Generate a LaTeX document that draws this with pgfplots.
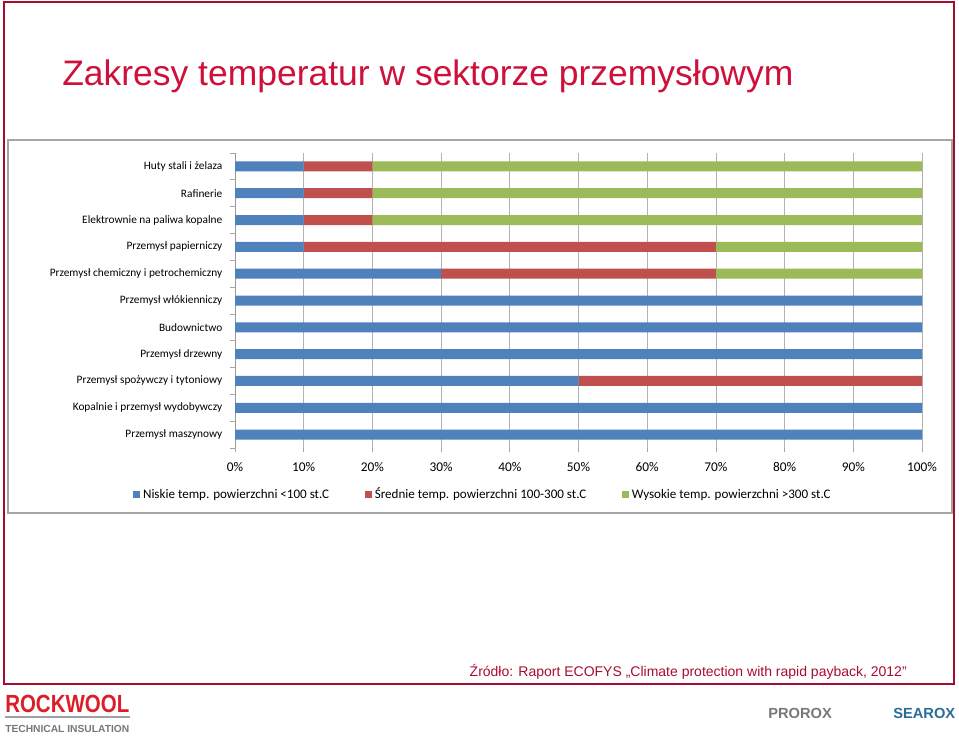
\documentclass[border=0pt]{standalone}
\usepackage{pgfplots}
\pgfplotsset{compat=1.18}
\usepackage{fontspec}
\setmainfont{Carlito}
\newfontfamily\arialf{Liberation Sans}

\definecolor{niskie}{RGB}{79,129,189}
\definecolor{srednie}{RGB}{192,80,77}
\definecolor{wysokie}{RGB}{155,187,89}
\definecolor{slidered}{RGB}{206,16,58}
\definecolor{srcred}{RGB}{170,12,48}
\definecolor{logored}{RGB}{220,30,40}
\definecolor{logogray}{RGB}{120,120,120}
\definecolor{searox}{RGB}{40,110,150}

\begin{document}
\begin{tikzpicture}
% slide frame (1 unit = 1 px of the reference)
\begin{scope}[x=0.75pt,y=-0.75pt]
\path[use as bounding box] (0,0) rectangle (959,735);
\fill[white] (0,0) rectangle (959,735);
\draw[slidered!80!black, line width=1.2pt] (4,2) rectangle (954,684);
\draw[gray!70, line width=0.9pt] (8,140) rectangle (952,513);
\node[anchor=base west, inner sep=0pt, text=slidered, font=\arialf\fontsize{26.6}{30}\selectfont]
  at (62,85) {Zakresy temperatur w sektorze przemysłowym};
\node[anchor=base east, inner sep=0pt, text=srcred, font=\arialf\fontsize{10.5}{12}\selectfont]
  at (907,676) {Źródło: Raport ECOFYS „Climate protection with rapid payback, 2012”};
% logos
\node[anchor=base west, inner sep=0pt, text=logored, font=\arialf\bfseries\fontsize{15}{16}\selectfont]
  at (5,712) {\resizebox{93pt}{13pt}{ROCKWOOL}};
\draw[logogray!70, line width=1.5pt] (5,717) -- (130,717);
\node[anchor=base west, inner sep=0pt, text=logogray, font=\arialf\bfseries\fontsize{8.5}{10}\selectfont]
  at (5,732) {\resizebox{93pt}{!}{TECHNICAL INSULATION}};
\node[anchor=base west, inner sep=0pt, text=logogray, font=\arialf\bfseries\fontsize{11}{12}\selectfont]
  at (768,718) {PROROX};
\node[anchor=base west, inner sep=0pt, text=searox, font=\arialf\bfseries\fontsize{11}{12}\selectfont]
  at (893,718) {SEAROX};
\end{scope}

\begin{axis}[
    at={(176.25pt,-336pt)}, anchor=south west,
    scale only axis,
    width=515.25pt, height=221.25pt,
    xbar stacked,
    bar width=7.5pt,
    xmin=0, xmax=100,
    ymin=-0.5, ymax=10.5,
    axis x line*=bottom,
    axis y line*=left,
    x axis line style={draw=none},
    y axis line style={gray!80},
    tick align=outside,
    xtick={0,10,...,100},
    xticklabels={0\%,10\%,20\%,30\%,40\%,50\%,60\%,70\%,80\%,90\%,100\%},
    xmajorgrids,
    major grid style={gray!60, line width=0.6pt},
    major x tick style={gray!70, line width=0.6pt},
    major tick length=3pt,
    minor tick length=4pt,
    ytick={0,...,10},
    yticklabels={Przemysł maszynowy, Kopalnie i przemysł wydobywczy,
        Przemysł spożywczy i tytoniowy, Przemysł drzewny, Budownictwo,
        Przemysł włókienniczy, Przemysł chemiczny i petrochemiczny,
        Przemysł papierniczy, Elektrownie na paliwa kopalne, Rafinerie,
        Huty stali i żelaza},
    major y tick style={draw=none},
    minor ytick={-0.5,0.5,...,10.5},
    minor y tick style={gray!70, line width=0.6pt},
    yticklabel style={font=\fontsize{8.5}{10}\selectfont, xshift=-3pt},
    xticklabel style={font=\fontsize{10}{12}\selectfont, yshift=-4pt},
    legend style={at={(-0.154,-0.157)}, anchor=west, draw=none, fill=none,
        font=\fontsize{9.8}{11}\selectfont, legend columns=3,
        nodes={text height=1.6ex, text depth=0.3ex},
        /tikz/every even column/.append style={column sep=25pt}},
    legend image code/.code={\fill[#1] (0pt,-2.6pt) rectangle (5.2pt,2.6pt);},
]
\addplot[fill=niskie, draw=none] coordinates {
    (10,10) (10,9) (10,8) (10,7) (30,6) (100,5) (100,4) (100,3) (50,2) (100,1) (100,0)};
\addplot[fill=srednie, draw=none] coordinates {
    (10,10) (10,9) (10,8) (60,7) (40,6) (0,5) (0,4) (0,3) (50,2) (0,1) (0,0)};
\addplot[fill=wysokie, draw=none] coordinates {
    (80,10) (80,9) (80,8) (30,7) (30,6) (0,5) (0,4) (0,3) (0,2) (0,1) (0,0)};
\legend{Niskie temp. powierzchni <100 st.C,
        Średnie temp. powierzchni 100-300 st.C,
        Wysokie temp. powierzchni >300 st.C}
\end{axis}
\end{tikzpicture}
\end{document}
